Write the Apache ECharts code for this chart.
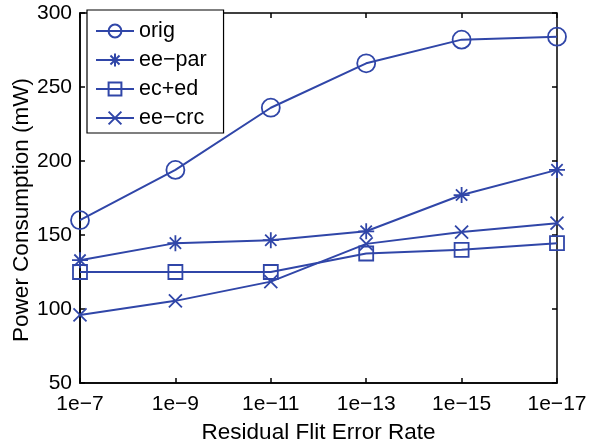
<!DOCTYPE html>
<html>
<head>
<meta charset="utf-8">
<script src="https://cdn.jsdelivr.net/npm/echarts@6/dist/echarts.min.js"></script>
<style>
  html, body { margin: 0; padding: 0; background: #fff; }
  #chart { width: 591px; height: 445px; }
</style>
</head>
<body>
<div id="chart"></div>
<script>
// Residual flit error rates (x categories)
const categories = ['1e\u22127', '1e\u22129', '1e\u221211', '1e\u221213', '1e\u221215', '1e\u221217'];

// Power consumption in mW for each scheme
const origValues  = [160, 194, 236, 266, 282, 284];
const eeParValues = [133, 144.5, 146.5, 152.5, 177, 194];
const ecEdValues  = [125, 125, 125, 137.5, 140, 144.5];
const eeCrcValues = [96, 105.5, 118.5, 144, 152, 158];

const seriesNames = ['orig', 'ee\u2212par', 'ec+ed', 'ee\u2212crc'];

// Y axis range and step
const yMin = 50, yMax = 300, yStep = 50;

const blue = '#3046a8';
const font = '"Liberation Sans", Arial, Helvetica, sans-serif';

// Stroke-only marker outlines: eight-armed asterisk and diagonal cross
const asterisk = 'path://M0,-10L0,10M-10,0L10,0M-7.07,-7.07L7.07,7.07M-7.07,7.07L7.07,-7.07';
const cross = 'path://M-10,-10L10,10M-10,10L10,-10';

function makeSeries(name, data, symbol, size) {
  return {
    name: name,
    type: 'line',
    data: data,
    symbol: symbol,
    symbolSize: size,
    showAllSymbol: true,
    lineStyle: { color: blue, width: 2 },
    itemStyle: { color: 'rgba(0,0,0,0)', borderColor: blue, borderWidth: 1.8 },
    emphasis: { disabled: true },
    animation: false,
    z: 3
  };
}

const axisLineStyle = { color: '#000', width: 1.5 };

const chart = echarts.init(document.getElementById('chart'), null, { renderer: 'canvas' });
chart.setOption({
  backgroundColor: '#fff',
  textStyle: { fontFamily: font, color: '#000' },
  grid: {
    left: 80, right: 34, top: 13, bottom: 62,
    containLabel: false,
    outerBoundsMode: 'none',
    show: true, borderColor: '#000', borderWidth: 1.5, backgroundColor: 'transparent'
  },
  legend: {
    left: 87, top: 10,
    orient: 'vertical',
    backgroundColor: '#fff',
    borderColor: '#000',
    borderWidth: 1.2,
    borderRadius: 0,
    padding: [10, 17, 4, 8],
    itemWidth: 38,
    itemHeight: 16,
    itemGap: 7,
    textStyle: { fontFamily: font, fontSize: 21.5, color: '#000' },
    data: seriesNames,
    selectedMode: false
  },
  xAxis: [{
    type: 'category',
    data: categories,
    boundaryGap: false,
    axisLine: { lineStyle: axisLineStyle },
    axisTick: { inside: true, length: 5, lineStyle: axisLineStyle },
    axisLabel: { fontFamily: font, fontSize: 21, color: '#000', margin: 11 },
    splitLine: { show: false },
    name: 'Residual Flit Error Rate',
    nameLocation: 'middle',
    nameGap: 38,
    nameMoveOverlap: false,
    nameTextStyle: { fontFamily: font, fontSize: 22.5, color: '#000' }
  }, {
    type: 'category',
    data: categories,
    boundaryGap: false,
    position: 'top',
    axisLine: { show: false },
    axisTick: { inside: true, length: 5, lineStyle: axisLineStyle },
    axisLabel: { show: false },
    splitLine: { show: false }
  }],
  yAxis: [{
    type: 'value',
    min: yMin, max: yMax, interval: yStep,
    axisLine: { show: true, lineStyle: axisLineStyle },
    axisTick: { show: true, inside: true, length: 5, lineStyle: axisLineStyle },
    axisLabel: { fontFamily: font, fontSize: 21, color: '#000', margin: 8 },
    splitLine: { show: false },
    name: 'Power Consumption (mW)',
    nameLocation: 'middle',
    nameGap: 47,
    nameMoveOverlap: false,
    nameTextStyle: { fontFamily: font, fontSize: 22.5, color: '#000', padding: [0, 24, 0, 0] }
  }, {
    type: 'value',
    min: yMin, max: yMax, interval: yStep,
    position: 'right',
    axisLine: { show: false },
    axisTick: { show: true, inside: true, length: 5, lineStyle: axisLineStyle },
    axisLabel: { show: false },
    splitLine: { show: false }
  }],
  series: [
    makeSeries(seriesNames[0], origValues, 'circle', 18),
    makeSeries(seriesNames[1], eeParValues, asterisk, 16),
    makeSeries(seriesNames[2], ecEdValues, 'rect', 14),
    makeSeries(seriesNames[3], eeCrcValues, cross, 13)
  ]
});
</script>
</body>
</html>
